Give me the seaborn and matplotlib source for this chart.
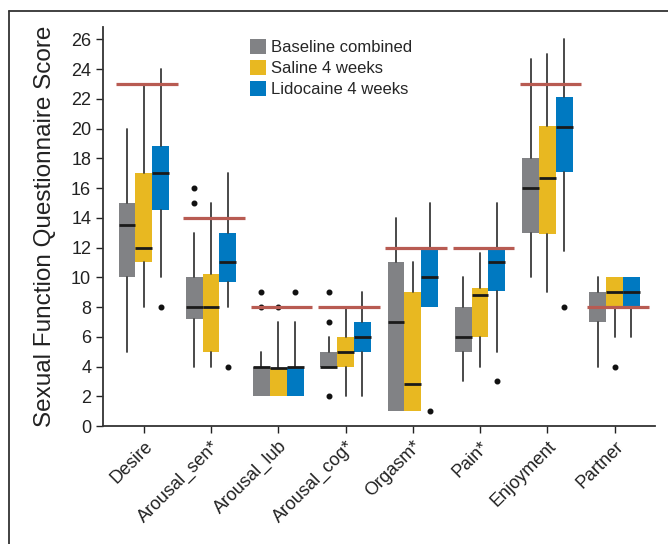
import numpy as np
import matplotlib
matplotlib.use("Agg")
import matplotlib.pyplot as plt
from matplotlib.patches import Patch
from matplotlib.lines import Line2D
import seaborn as sns

sns.set_style("ticks")
plt.rcParams['font.family'] = ['Liberation Sans', 'DejaVu Sans']

# Categorias y grupos
categories = ["Desire", "Arousal_sen*", "Arousal_lub", "Arousal_cog*",
              "Orgasm*", "Pain*", "Enjoyment", "Partner"]
groups = ["Baseline combined", "Saline 4 weeks", "Lidocaine 4 weeks"]
colors = ["#818285", "#e8b821", "#0079c1"]

# Linea de referencia por dominio
ref_values = [23, 14, 8, 8, 12, 12, 23, 8]

# Estadisticos de caja (por dominio)
base_whislo = [5, 4, 2, 4, 1, 3, 10, 4]
base_q1 = [10, 7.2, 2, 4, 1, 5, 13, 7]
base_med = [13.5, 8, 4, 4, 7, 6, 16, 8]
base_q3 = [15, 10, 4, 5, 11, 8, 18, 9]
base_whishi = [20, 13, 5, 6, 14, 10, 24.7, 10]
base_fliers = [[], [15, 16], [8, 9], [2, 7, 9], [], [], [], []]

sal_whislo = [8, 4, 2, 2, 1, 4, 9, 6]
sal_q1 = [11, 5, 2, 4, 1, 6, 12.9, 8]
sal_med = [12, 8, 3.9, 5, 2.85, 8.8, 16.7, 9]
sal_q3 = [17, 10.2, 3.9, 6, 9, 9.3, 20.2, 10]
sal_whishi = [22.9, 15, 7, 8, 11, 11.6, 25, 10]
sal_fliers = [[], [], [8], [], [], [], [], [4]]

lid_whislo = [10, 8, 2, 2, 8, 5, 11.8, 6]
lid_q1 = [14.5, 9.7, 2, 5, 8, 9.1, 17.1, 8]
lid_med = [17, 11, 4, 6, 10, 11, 20.1, 9]
lid_q3 = [18.8, 13, 4, 7, 12, 12, 22.1, 10]
lid_whishi = [24, 17, 7, 9, 15, 15, 26, 10]
lid_fliers = [[8], [4], [9], [], [1], [3], [8], []]

series = [
    (base_whislo, base_q1, base_med, base_q3, base_whishi, base_fliers),
    (sal_whislo, sal_q1, sal_med, sal_q3, sal_whishi, sal_fliers),
    (lid_whislo, lid_q1, lid_med, lid_q3, lid_whishi, lid_fliers),
]

fig = plt.figure(figsize=(6.68, 5.44), dpi=100)
ax = fig.add_axes([0.1542, 0.2169, 0.8263, 0.734])

width = 0.25
offsets = [-width, 0, width]
x = np.arange(len(categories))

for g, (wl, q1, med, q3, wh, fl) in enumerate(series):
    stats = []
    for i in range(len(categories)):
        stats.append(dict(whislo=wl[i], q1=q1[i], med=med[i], q3=q3[i],
                          whishi=wh[i], fliers=fl[i]))
    ax.bxp(stats, positions=x + offsets[g], widths=width, patch_artist=True,
           showcaps=False, manage_ticks=False,
           boxprops=dict(facecolor=colors[g], edgecolor="none", linewidth=0),
           whiskerprops=dict(color="#3a3a3a", linewidth=1.3),
           medianprops=dict(color="#1a1a1a", linewidth=2.0),
           flierprops=dict(marker="o", markersize=3.3, markerfacecolor="#111111",
                           markeredgecolor="#111111"))

# Lineas de referencia
ax.hlines(ref_values, x - 0.41, x + 0.505, colors="#b85b52", linewidth=2.3, zorder=5)

ax.set_xlim(-0.606, 7.6)
ax.set_ylim(0, 26.85)
ax.set_yticks(np.arange(0, 27, 2))
ax.set_xticks(x)
ax.set_xticklabels(categories, rotation=45, ha="right", rotation_mode="anchor",
                   fontsize=13, color="#222222")
ax.tick_params(axis="y", labelsize=13, colors="#222222", length=5, width=1)
ax.tick_params(axis="x", length=5, width=1, colors="#222222")
ax.set_ylabel("Sexual Function Questionnaire Score", fontsize=17.5, color="#222222",
              labelpad=11)
sns.despine(ax=ax)
for s in ["left", "bottom"]:
    ax.spines[s].set_linewidth(1.3)
    ax.spines[s].set_color("#333333")

handles = [Patch(facecolor=c, edgecolor="none") for c in colors]
ax.legend(handles, groups, loc="upper left", bbox_to_anchor=(0.252, 0.99),
          frameon=False, fontsize=12, handlelength=0.95, handleheight=1.0,
          handletextpad=0.3, labelspacing=0.28, borderpad=0)

# Marco de la figura
fig.add_artist(Line2D([9 / 668, 1], [1 - 11 / 544, 1 - 11 / 544],
                      transform=fig.transFigure, color="#333333", linewidth=1.3))
fig.add_artist(Line2D([9 / 668, 9 / 668], [0, 1 - 11 / 544],
                      transform=fig.transFigure, color="#333333", linewidth=1.3))

fig.savefig("out.png", dpi=100)
plt.close()
